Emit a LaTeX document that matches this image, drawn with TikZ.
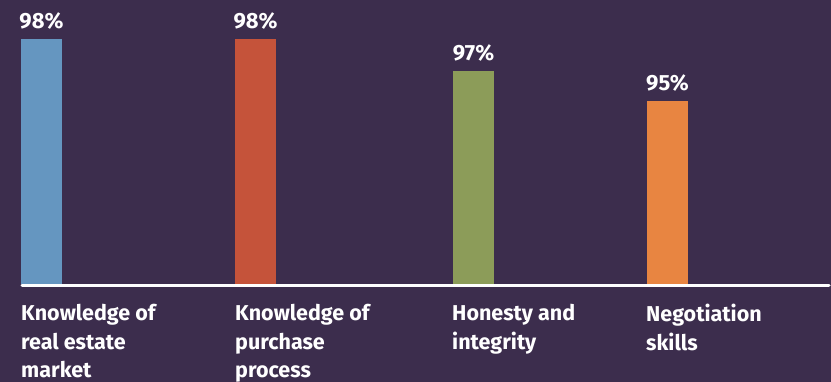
\documentclass[tikz,border=0pt]{standalone}
\usepackage{fontspec}
\setmainfont{Fira Sans}[UprightFont=* SemiBold, BoldFont=* Bold]
\definecolor{bg}{HTML}{3C2D4D}
\definecolor{cblue}{HTML}{6596C0}
\definecolor{cred}{HTML}{C5533A}
\definecolor{cgreen}{HTML}{8C9C59}
\definecolor{corange}{HTML}{E88541}
\begin{document}
\begin{tikzpicture}[x=1pt,y=-1pt,
  pct/.style={text=white,font=\bfseries\fontsize{22}{22}\selectfont,inner sep=0pt,anchor=base},
  lbl/.style={text=white,font=\bfseries\fontsize{21.5}{28.5}\selectfont,inner sep=0pt,anchor=north west,align=left}]
\fill[bg] (0,0) rectangle (831,382);
\useasboundingbox (0,0) rectangle (831,382);
% bars
\fill[cblue] (21,39) rectangle (62,284);
\fill[cred] (235,39) rectangle (276,284);
\fill[cgreen] (453,71) rectangle (494,284);
\fill[corange] (647,101) rectangle (688,284);
% baseline
\coordinate (axl) at (22,285.5);
\coordinate (axr) at (829,285.5);
\draw[white,line width=3pt,line cap=round] (axl) -- (axr);
% percentages
\node[pct] (p1) at (41.5,28.5) {98\%};
\node[pct] (p2) at (255.5,28.5) {98\%};
\node[pct] (p3) at (473.5,60.5) {97\%};
\node[pct] (p4) at (667.5,90.5) {95\%};
% labels
\node[lbl] (l1) at (21,304) {Knowledge of\\real estate\\market};
\node[lbl] (l2) at (235,304) {Knowledge of\\purchase\\process};
\node[lbl] (l3) at (452,304) {Honesty and\\integrity};
\node[lbl] (l4) at (646,304) {Negotiation\\skills};
\end{tikzpicture}
\end{document}
